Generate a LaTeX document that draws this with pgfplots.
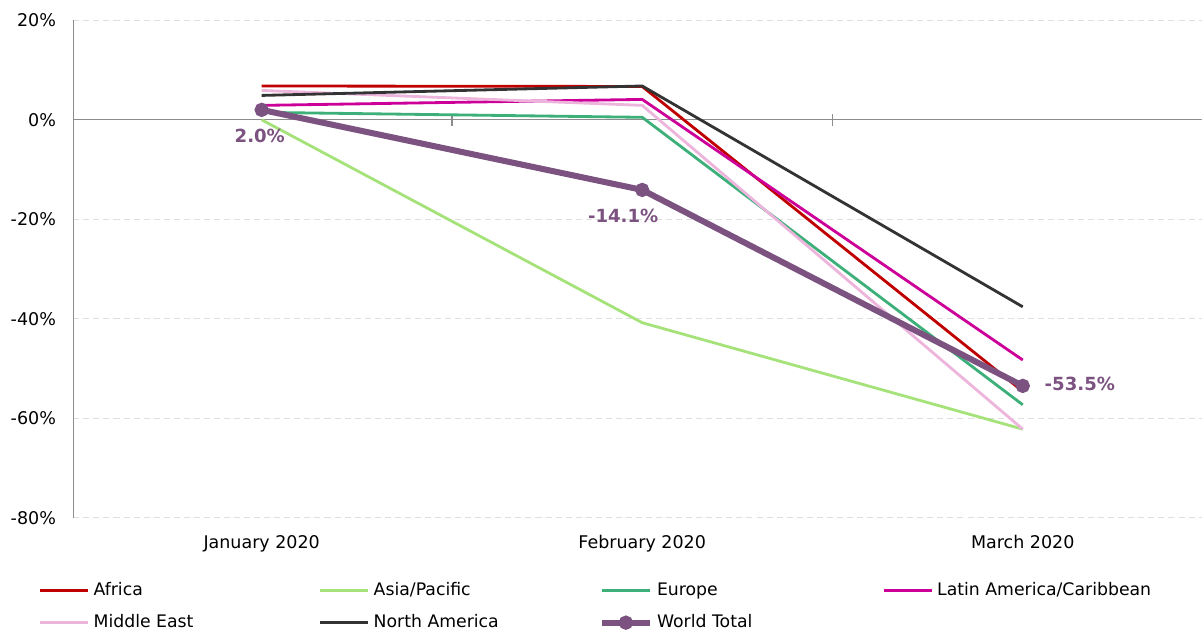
\documentclass[border=0pt]{standalone}
\usepackage{pgfplots}
\pgfplotsset{compat=1.18}
\usepackage{fontspec}
\setmainfont{DejaVu Sans}

\definecolor{afr}{HTML}{C00000}
\definecolor{asia}{HTML}{A6E27A}
\definecolor{euro}{HTML}{3DB07A}
\definecolor{latam}{HTML}{CC0099}
\definecolor{meast}{HTML}{EDB4DC}
\definecolor{namer}{HTML}{333333}
\definecolor{world}{HTML}{7B5280}

\pgfplotsset{
    worldlegend/.style={legend image code/.code={\draw[##1, mark repeat=2, mark phase=2, mark size=2pt]
        plot coordinates {(0pt,0pt) (12pt,0pt) (24pt,0pt)};}},
}

\begin{document}
\begin{tikzpicture}
\begin{axis}[
    scale only axis,
    width=561.5pt, height=247.5pt,
    xmin=-0.495, xmax=2.47,
    ymin=-80, ymax=20,
    axis lines=left,
    axis line style={-},
    x axis line style={draw=none},
    y axis line style={gray!90},
    xtick={0,1,2},
    xticklabels={January 2020,February 2020,March 2020},
    ytick={-80,-60,-40,-20,0,20},
    yticklabel={\pgfmathprintnumber{\tick}\%},
    /pgf/number format/assume math mode=true,
    tick style={draw=none},
    ymajorgrids,
    grid style={gray!25, dash pattern=on 3pt off 2pt},
    tick label style={font=\fontsize{8.7}{10}\selectfont, black},
    yticklabel style={xshift=-3pt},
    xticklabel style={yshift=-3pt},
    legend columns=4,
    legend style={draw=none, at={(axis description cs:0,0)}, anchor=north west,
        xshift=-20.5pt, yshift=-28pt,
        font=\fontsize{8.6}{10}\selectfont,
        /tikz/every even column/.append style={column sep=2pt},
        row sep=4pt},
    legend cell align=left,
    legend image code/.code={\draw[#1] (0pt,0pt) -- (24pt,0pt);},
]
% zero line with category separators
\addplot[gray!90, line width=0.6pt, forget plot] coordinates {(-0.495,0) (2.47,0)};
\addplot[gray!90, line width=0.6pt, forget plot] coordinates {(0.5,-1.2) (0.5,1.2)};
\addplot[gray!90, line width=0.6pt, forget plot] coordinates {(1.5,-1.2) (1.5,1.2)};

\addplot[afr, line width=1.4pt] coordinates {(0,6.8) (1,6.7) (2,-54.6)};
\addlegendentry{\makebox[108pt][l]{Africa}}
\addplot[asia, line width=1.4pt] coordinates {(0,0) (1,-40.8) (2,-62.2)};
\addlegendentry{\makebox[108pt][l]{Asia/Pacific}}
\addplot[euro, line width=1.4pt] coordinates {(0,1.5) (1,0.5) (2,-57.3)};
\addlegendentry{\makebox[108pt][l]{Europe}}
\addplot[latam, line width=1.4pt] coordinates {(0,2.9) (1,4.1) (2,-48.3)};
\addlegendentry{\makebox[108pt][l]{Latin America/Caribbean}}
\addplot[meast, line width=1.4pt] coordinates {(0,5.9) (1,2.9) (2,-62.2)};
\addlegendentry{\makebox[108pt][l]{Middle East}}
\addplot[namer, line width=1.4pt] coordinates {(0,4.9) (1,6.8) (2,-37.6)};
\addlegendentry{\makebox[108pt][l]{North America}}
\addplot[world, line width=3pt, mark=*, mark size=2pt, worldlegend]
    coordinates {(0,2.0) (1,-14.1) (2,-53.5)};
\addlegendentry{\makebox[108pt][l]{World Total}}

\node[world, font=\fontsize{9}{10}\selectfont\bfseries] at (axis cs:-0.005,-3.2) {2.0\%};
\node[world, font=\fontsize{9}{10}\selectfont\bfseries] at (axis cs:0.95,-19.3) {-14.1\%};
\node[world, font=\fontsize{9}{10}\selectfont\bfseries] at (axis cs:2.15,-53.2) {-53.5\%};
\end{axis}
\path (current bounding box.south west) ++(-2pt,0pt);
\path (current bounding box.north east) ++(0pt,3.5pt);
\end{tikzpicture}
\end{document}
